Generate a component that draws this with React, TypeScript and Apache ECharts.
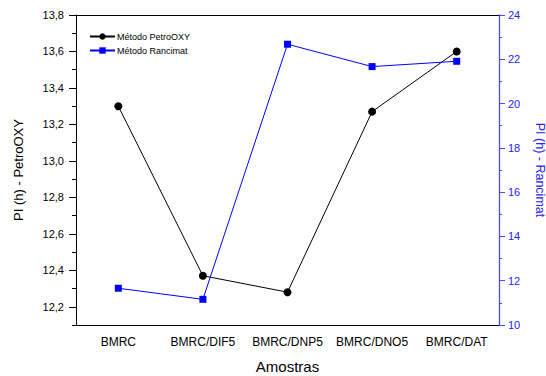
import React, { useEffect, useRef } from "react";
import * as echarts from "echarts";

const categories = ["BMRC", "BMRC/DIF5", "BMRC/DNP5", "BMRC/DNO5", "BMRC/DAT"];
const petroOxy = [13.3, 12.37, 12.28, 13.27, 13.6];
const rancimat = [11.66, 11.16, 22.68, 21.67, 21.91];

const BLUE = "#0000ff";
const BLUE_AXIS = "#4a4aff";
const BLUE_TEXT = "#2323ff";
const FONT = "Liberation Sans, Arial, sans-serif";

export default function App() {
  const ref = useRef<HTMLDivElement>(null);
  useEffect(() => {
    const chart = echarts.init(ref.current!, null, { renderer: "svg" });
    const top = 15;
    const bottom = 51;
    const plotH = 376 - top - bottom;
    // grid 2 spans 12.2..13.8 of the 12.1..13.8 range so that major ticks start at 12.2
    const majorBottom = bottom + plotH * (0.1 / 1.7);
    const base = { left: 76, right: 47, top, outerBoundsMode: "none", containLabel: false };
    const hiddenLabel = { show: false };
    chart.setOption({
      animation: false,
      backgroundColor: "#ffffff",
      textStyle: { fontFamily: FONT },
      grid: [
        { ...base, bottom },
        { ...base, bottom },
        { ...base, bottom: majorBottom },
      ],
      legend: {
        orient: "vertical",
        left: 84,
        top: 27,
        itemWidth: 25,
        itemHeight: 8,
        itemGap: 5,
        textStyle: { fontSize: 9, color: "#000", fontFamily: FONT, padding: [0, 0, 0, -3] },
        data: ["Método PetroOXY", "Método Rancimat"],
      },
      xAxis: [
        {
          type: "category",
          gridIndex: 0,
          position: "bottom",
          data: categories,
          boundaryGap: true,
          axisLine: { lineStyle: { color: "#000", width: 1 } },
          axisTick: { alignWithLabel: true, length: 6, lineStyle: { color: "#000" } },
          axisLabel: { color: "#000", fontSize: 12, margin: 11, fontFamily: FONT, interval: 0 },
          splitLine: { show: false },
          name: "Amostras",
          nameLocation: "middle",
          nameGap: 34,
          nameTextStyle: { fontSize: 15, color: "#000", fontFamily: FONT },
        },
        {
          type: "category",
          gridIndex: 0,
          position: "top",
          data: categories,
          boundaryGap: true,
          axisLine: { lineStyle: { color: "#000", width: 1 } },
          axisTick: { alignWithLabel: true, inside: true, length: 6, lineStyle: { color: "#000" } },
          axisLabel: hiddenLabel,
          splitLine: { show: false },
        },
        {
          type: "category",
          gridIndex: 1,
          position: "bottom",
          data: categories,
          boundaryGap: true,
          axisLine: { show: false },
          axisTick: { length: 3, lineStyle: { color: "#000" } },
          axisLabel: hiddenLabel,
          splitLine: { show: false },
        },
        {
          type: "category",
          gridIndex: 1,
          position: "top",
          data: categories,
          boundaryGap: true,
          axisLine: { show: false },
          axisTick: { inside: true, length: 3, lineStyle: { color: "#000" } },
          axisLabel: hiddenLabel,
          splitLine: { show: false },
        },
        {
          type: "category",
          gridIndex: 2,
          data: categories,
          show: false,
        },
      ],
      yAxis: [
        {
          type: "value",
          gridIndex: 0,
          position: "left",
          min: 12.1,
          max: 13.8,
          interval: 0.1,
          axisLine: { show: true, lineStyle: { color: "#000", width: 1 } },
          axisTick: { show: true, length: 4, lineStyle: { color: "#000" } },
          axisLabel: hiddenLabel,
          splitLine: { show: false },
          name: "PI (h) - PetroOXY",
          nameLocation: "middle",
          nameGap: 51,
          nameTextStyle: { fontSize: 13, color: "#000", fontFamily: FONT },
        },
        {
          type: "value",
          gridIndex: 0,
          position: "right",
          min: 10,
          max: 24,
          interval: 2,
          axisLine: { show: true, lineStyle: { color: BLUE_AXIS, width: 1.3 } },
          axisTick: { show: true, length: 6, lineStyle: { color: BLUE_AXIS } },
          minorTick: { show: true, splitNumber: 2, length: 3, lineStyle: { color: BLUE_AXIS } },
          axisLabel: { color: BLUE_TEXT, fontSize: 11, margin: 9, fontFamily: FONT },
          splitLine: { show: false },
          minorSplitLine: { show: false },
          name: "PI (h) - Rancimat",
          nameLocation: "middle",
          nameGap: 34,
          nameRotate: -90,
          nameTextStyle: { fontSize: 12.5, color: BLUE_TEXT, fontFamily: FONT },
        },
        {
          type: "value",
          gridIndex: 1,
          show: false,
        },
        {
          type: "value",
          gridIndex: 2,
          position: "left",
          min: 12.2,
          max: 13.8,
          interval: 0.2,
          axisLine: { show: false },
          axisTick: { show: true, length: 7, lineStyle: { color: "#000" } },
          axisLabel: {
            color: "#000",
            fontSize: 11,
            margin: 12,
            fontFamily: FONT,
            formatter: (v: number) => v.toFixed(1).replace(".", ","),
          },
          splitLine: { show: false },
        },
      ],
      series: [
        {
          name: "Método PetroOXY",
          type: "line",
          xAxisIndex: 0,
          yAxisIndex: 0,
          data: petroOxy,
          symbol: "circle",
          symbolSize: 8,
          lineStyle: { color: "#000", width: 1 },
          itemStyle: { color: "#000" },
        },
        {
          name: "Método Rancimat",
          type: "line",
          xAxisIndex: 0,
          yAxisIndex: 1,
          data: rancimat,
          symbol: "rect",
          symbolSize: 7,
          lineStyle: { color: BLUE, width: 1 },
          itemStyle: { color: BLUE },
        },
      ],
    });
    return () => chart.dispose();
  }, []);
  return (
    <div
      ref={ref}
      style={{ position: "fixed", left: 0, top: 0, width: 546, height: 376, background: "#fff" }}
    />
  );
}
